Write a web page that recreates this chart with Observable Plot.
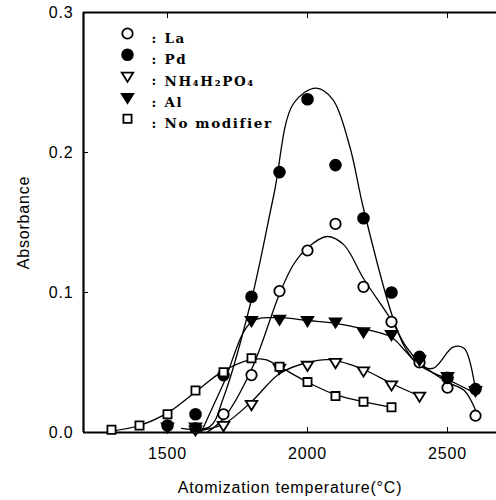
<!DOCTYPE html>
<html><head><meta charset="utf-8">
<script src="https://cdn.jsdelivr.net/npm/d3@7"></script>
<script src="https://cdn.jsdelivr.net/npm/@observablehq/plot@0.6"></script>
<style>body{margin:0;background:#fff} svg{display:block}</style>
</head><body><div id="chart"></div>
<script>
// ---- data ----
const temps = [1300,1400,1500,1600,1700,1800,1900,2000,2100,2200,2300,2400,2500,2600];
const laValues    = [null,null,null,0.003,0.013,0.041,0.101,0.130,0.149,0.104,0.079,0.050,0.032,0.012];
const pdValues    = [null,null,0.005,0.013,0.041,0.097,0.186,0.238,0.191,0.153,0.100,0.054,0.039,0.031];
const nh4Values   = [null,null,null,0.002,0.005,0.020,0.046,0.048,0.050,0.044,0.034,0.026,null,null];
const alValues    = [null,null,0.004,0.004,null,0.080,0.081,0.080,0.079,0.072,0.070,0.052,0.040,0.030];
const noModValues = [0.002,0.005,0.013,0.030,0.043,0.053,0.047,0.036,0.026,0.022,0.018,null,null,null];

// fitted curves as drawn in the reference
const laFitT  = [1640,1700,1800,1900,1950,2000,2070,2130,2200,2300,2350,2400,2500,2560,2600];
const laFit   = [0.000,0.010,0.045,0.099,0.120,0.132,0.140,0.134,0.110,0.080,0.062,0.050,0.036,0.030,0.016];
const pdFitT  = [1550,1650,1700,1800,1880,1950,2030,2090,2150,2200,2300,2350,2400,2500,2600];
const pdFit   = [0.003,0.004,0.025,0.095,0.170,0.235,0.246,0.238,0.205,0.160,0.085,0.060,0.048,0.038,0.028];
const nh4FitT = [1600,1700,1800,1900,2000,2080,2200,2300,2400];
const nh4Fit  = [0.001,0.006,0.022,0.042,0.050,0.052,0.045,0.035,0.026];
const alFitT  = [1620,1700,1800,1900,2000,2100,2200,2300,2350,2400,2450,2520,2560,2600];
const alFit   = [0.000,0.035,0.079,0.082,0.080,0.078,0.074,0.068,0.058,0.048,0.046,0.061,0.060,0.030];
const noFitT  = [1300,1400,1500,1600,1700,1800,1850,1900,2000,2100,2200,2300];
const noFit   = [0.001,0.005,0.014,0.029,0.044,0.052,0.052,0.047,0.036,0.027,0.022,0.018];

const seriesNames = ["La","Pd","NH₄H₂PO₄","Al","No modifier"];
const xTicks = [1500,2000,2500];
const yTicks = [0.0,0.1,0.2,0.3];
const xDomain = [1200,2675];
const yDomain = [0,0.3];
const xLabel = "Atomization temperature(°C)";
const yLabel = "Absorbance";

// ---- build tables ----
const valueArrays = [laValues,pdValues,nh4Values,alValues,noModValues];
const fits = [[laFitT,laFit],[pdFitT,pdFit],[nh4FitT,nh4Fit],[alFitT,alFit],[noFitT,noFit]];

const triangleDown = {
  draw(context, size) {
    const r = Math.sqrt(size) * 0.58;
    context.moveTo(-r, -r * 0.62);
    context.lineTo(r, -r * 0.62);
    context.lineTo(0, r * 1.0);
    context.closePath();
  }
};
const styleOf = [
  {symbol: "circle", filled: false, r: 5.2},
  {symbol: "circle", filled: true, r: 5.4},
  {symbol: triangleDown, filled: false, r: 5.6},
  {symbol: triangleDown, filled: true, r: 5.6},
  {symbol: "square", filled: false, r: 4.6}
];

const lineMarks = fits.map(([T, V]) =>
  Plot.line(T.map((t, i) => ({t, v: V[i]})), {x: "t", y: "v", curve: "catmull-rom", stroke: "#000", strokeWidth: 1.3})
);
const dotMarks = valueArrays.map((vals, k) => {
  const rows = temps.map((t, i) => ({t, v: vals[i]})).filter(d => d.v != null);
  const s = styleOf[k];
  return Plot.dot(rows, {x: "t", y: "v", symbol: () => s.symbol, r: s.r,
    fill: s.filled ? "#000" : "#fff", stroke: "#000", strokeWidth: 1.8});
});
const legendMarks = seriesNames.flatMap((name, k) => {
  const s = styleOf[k];
  const dy = 21 + k * 21.3;
  return [
    Plot.dot([name], {frameAnchor: "top-left", dx: 44, dy, symbol: () => s.symbol, r: s.r,
      fill: s.filled ? "#000" : "#fff", stroke: "#000", strokeWidth: 1.8}),
    Plot.text([":"], {frameAnchor: "top-left", dx: 68, dy, textAnchor: "start", fontSize: 13,
      fontWeight: "bold", fontFamily: "DejaVu Serif"}),
    Plot.text([name], {frameAnchor: "top-left", dx: 81, dy, textAnchor: "start", fontSize: 13.5,
      fontWeight: "bold", fontFamily: "DejaVu Serif"})
  ];
});

const chart = Plot.plot({
  width: 496, height: 500,
  marginLeft: 83, marginRight: 0, marginTop: 12, marginBottom: 68,
  x: {domain: xDomain},
  y: {domain: yDomain},
  style: {fontFamily: "Liberation Sans, Arial, sans-serif", background: "#fff", color: "#000"},
  marks: [
    Plot.axisX(xTicks, {anchor: "bottom", tickSize: -5, tickPadding: 20, fontSize: 16,
      tickFormat: d => String(d), label: xLabel, labelAnchor: "center", labelOffset: 60, labelArrow: "none"}),
    Plot.axisX(xTicks, {anchor: "top", tickSize: -5, tickFormat: () => "", label: null}),
    Plot.axisY(yTicks, {anchor: "left", tickSize: -5, tickPadding: 15, fontSize: 16,
      tickFormat: d3.format(".1f"), label: yLabel, labelAnchor: "center", labelOffset: 66, labelArrow: "none"}),
    Plot.ruleX([xDomain[0]], {strokeWidth: 2.2}),
    Plot.ruleY(yDomain, {strokeWidth: 2.2}),
    ...lineMarks,
    ...dotMarks,
    ...legendMarks
  ]
});
// letter spacing to match the wide scanned lettering
d3.select(chart).selectAll("g[font-family='DejaVu Serif'] text").attr("letter-spacing", "1.6px");
d3.select(chart).selectAll("g[aria-label^='x-axis'] text, g[aria-label^='y-axis'] text").attr("letter-spacing", "0.8px");
document.getElementById("chart").appendChild(chart);
</script></body></html>
